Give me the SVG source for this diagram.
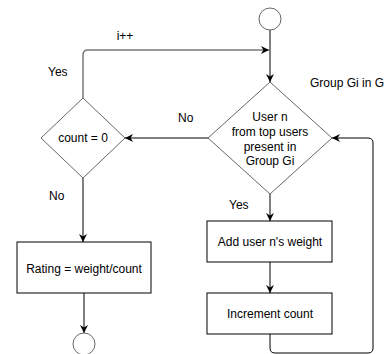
<svg xmlns="http://www.w3.org/2000/svg" width="385" height="354" viewBox="0 0 385 354">
<defs>
<style>
text{font-family:"Liberation Sans",Arial,sans-serif;font-size:12px;fill:#000}
.c{text-anchor:middle}
.box{fill:#fff;stroke:#000;stroke-width:1}
.dia{fill:#fff;stroke:#666;stroke-width:1}
.circ{fill:#fff;stroke:#666;stroke-width:1}
.ln{fill:none;stroke:#000;stroke-width:1}
.gl{fill:none;stroke:#7a7a7a;stroke-width:1.5}
</style>
<marker id="ah" viewBox="0 0 10 10" refX="10" refY="5" markerWidth="8" markerHeight="8" markerUnits="userSpaceOnUse" orient="auto">
<path d="M0,0 L10,5 L0,10 L3,5 z" fill="#000"/>
</marker>
</defs>
<rect width="385" height="354" fill="#fff"/>
<g id="connectors">
<path class="ln" d="M270,30 V82" marker-end="url(#ah)"/>
<path class="gl" d="M83,98 V55 Q83,50 88,50 H269" marker-end="url(#ah)"/>
<path class="ln" d="M208,138 H125" marker-end="url(#ah)"/>
<path class="ln" d="M83,178 V242" marker-end="url(#ah)"/>
<path class="ln" d="M84,293 V333" marker-end="url(#ah)"/>
<path class="ln" d="M270,194 V221" marker-end="url(#ah)"/>
<path class="ln" d="M270,262 V293" marker-end="url(#ah)"/>
<path class="ln" d="M270,334 V348 Q270,353 275,353 H368 Q373,353 373,348 V143 Q373,138 368,138 H332" marker-end="url(#ah)" stroke="#444"/>
<text class="c" x="125" y="40">i++</text>
<text x="48" y="76">Yes</text>
<text x="178" y="122">No</text>
<text x="49" y="200">No</text>
<text x="229" y="209">Yes</text>
</g>
<g id="start"><circle class="circ" cx="270" cy="19" r="11"/></g>
<g id="decision-user">
<polygon class="dia" points="270,82 332,138 270,194 208,138"/>
<text class="c" x="270" y="121">User n</text>
<text class="c" x="270" y="136">from top users</text>
<text class="c" x="270" y="151">present in</text>
<text class="c" x="270" y="165">Group Gi</text>
</g>
<g id="decision-count">
<polygon class="dia" points="83,98 125,138 83,178 41,138"/>
<text class="c" x="83" y="142">count = 0</text>
</g>
<g id="add-weight">
<rect class="box" x="207" y="221" width="125" height="41"/>
<text class="c" x="270" y="246">Add user n's weight</text>
</g>
<g id="increment">
<rect class="box" x="207" y="293" width="125" height="41"/>
<text class="c" x="270" y="318">Increment count</text>
</g>
<g id="rating">
<rect class="box" x="17" y="242" width="134" height="51"/>
<text class="c" x="84" y="273">Rating = weight/count</text>
</g>
<g id="end"><circle class="circ" cx="84" cy="344" r="11"/></g>
<g id="group-label"><text x="310" y="87">Group Gi in G</text></g>
</svg>
